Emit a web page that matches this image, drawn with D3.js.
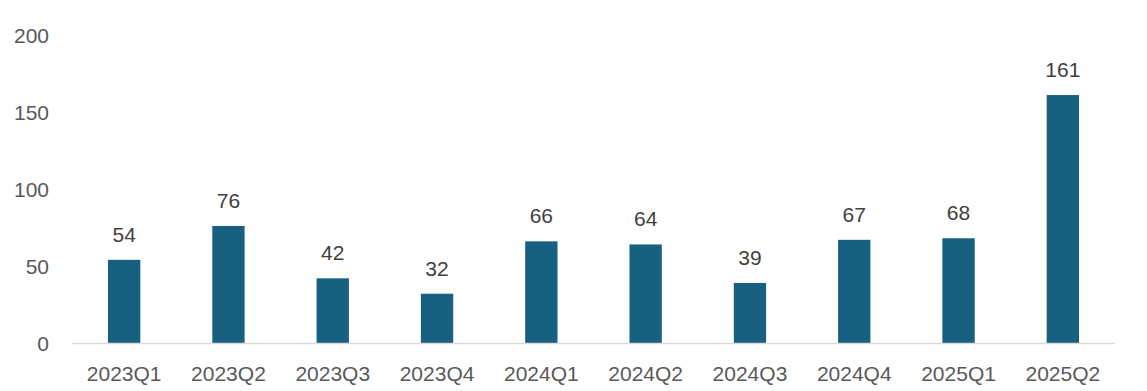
<!DOCTYPE html>
<html><head><meta charset="utf-8">
<script src="https://cdn.jsdelivr.net/npm/d3@7"></script>
<style>body{margin:0;background:#fff}svg{display:block}</style>
</head><body>
<script>
const categories = ["2023Q1","2023Q2","2023Q3","2023Q4","2024Q1","2024Q2","2024Q3","2024Q4","2025Q1","2025Q2"];
const values = [54,76,42,32,66,64,39,67,68,161];
const yTicks = [0,50,100,150,200];

const W = 1147, H = 391;
const svg = d3.select("body").append("svg").attr("width", W).attr("height", H);
const x = d3.scaleBand().domain(categories).range([72, 1115]).paddingInner(0.69).paddingOuter(0.345);
const y = d3.scaleLinear().domain([0, 200]).range([343, 35]);
const font = "'Liberation Sans', Arial, sans-serif";

svg.append("g").selectAll("text").data(yTicks).join("text")
  .attr("x", 49).attr("y", d => y(d)).attr("dy", "0.36em")
  .attr("text-anchor", "end").attr("font-family", font).attr("font-size", 21)
  .attr("fill", "#595959").text(d => d);

svg.append("g").selectAll("rect").data(values).join("rect")
  .attr("x", (d, i) => x(categories[i])).attr("width", x.bandwidth())
  .attr("y", d => y(d)).attr("height", d => y(0) - y(d))
  .attr("fill", "#17607F");

svg.append("line").attr("x1", 72).attr("x2", 1115).attr("y1", y(0)+0.5).attr("y2", y(0)+0.5)
  .attr("stroke", "#d9d9d9").attr("stroke-width", 1.5);

svg.append("g").selectAll("text").data(values).join("text")
  .attr("x", (d, i) => x(categories[i]) + x.bandwidth()/2).attr("y", d => y(d) - 18)
  .attr("text-anchor", "middle").attr("font-family", font).attr("font-size", 21)
  .attr("fill", "#404040").text(d => d);

svg.append("g").selectAll("text").data(categories).join("text")
  .attr("x", d => x(d) + x.bandwidth()/2).attr("y", 381)
  .attr("text-anchor", "middle").attr("font-family", font).attr("font-size", 21)
  .attr("fill", "#595959").text(d => d);
</script>
</body></html>
